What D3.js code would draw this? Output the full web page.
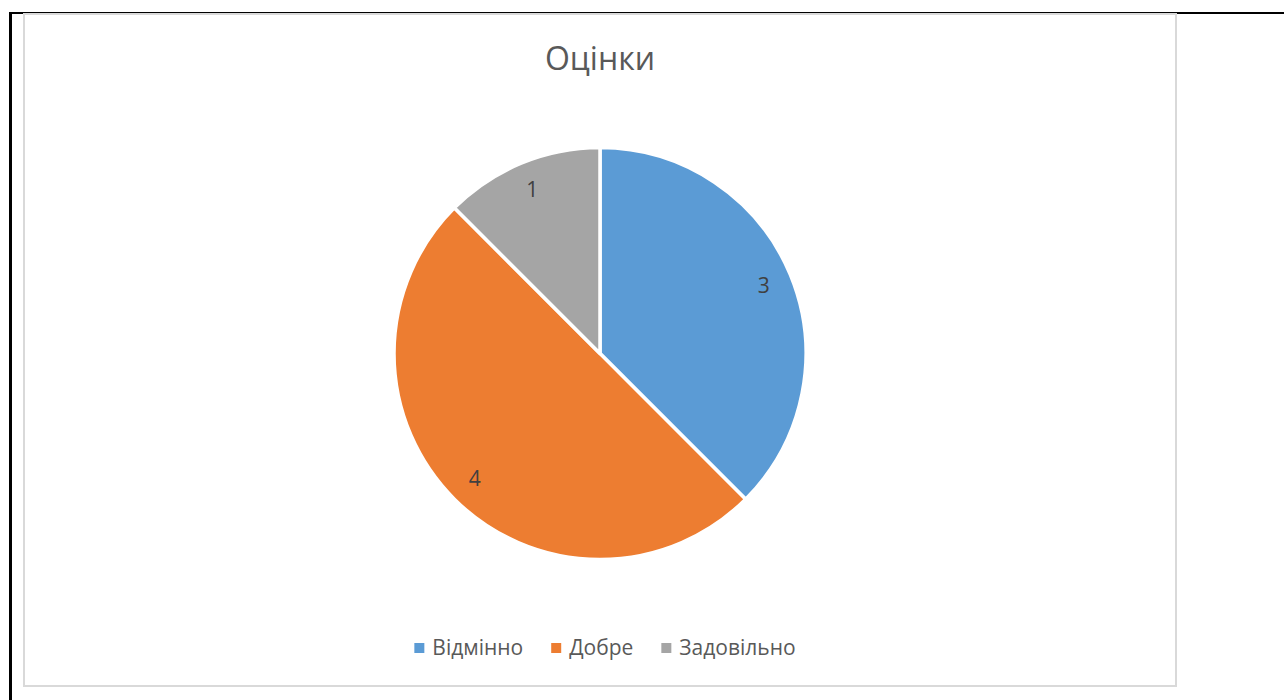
<!DOCTYPE html>
<html lang="uk">
<head>
<meta charset="UTF-8">
<title>Оцінки</title>
<script src="https://d3js.org/d3.v7.min.js"></script>
<style>
  body { margin: 0; background: #fff; }
  svg { display: block; font-family: "Open Sans", "Noto Sans", sans-serif; }
</style>
</head>
<body>
<div id="chart"></div>
<script>
// data
var categories = ["Відмінно", "Добре", "Задовільно"];
var values = [3, 4, 1];
var colors = ["#5B9BD5", "#ED7D31", "#A5A5A5"];
var title = "Оцінки";

var width = 1284, height = 700;

var svg = d3.select("#chart").append("svg")
  .attr("width", width)
  .attr("height", height);

// page lines around the chart
svg.append("line")
  .attr("x1", 9).attr("x2", width).attr("y1", 13).attr("y2", 13)
  .attr("stroke", "#000").attr("stroke-width", 2);
svg.append("line")
  .attr("x1", 10.5).attr("x2", 10.5).attr("y1", 12).attr("y2", height)
  .attr("stroke", "#000").attr("stroke-width", 3);

// chart area border
svg.append("rect")
  .attr("x", 24).attr("y", 14)
  .attr("width", 1152).attr("height", 672)
  .attr("fill", "#fff")
  .attr("stroke", "#d9d9d9").attr("stroke-width", 2);

// title
svg.append("text")
  .attr("x", 600).attr("y", 70)
  .attr("text-anchor", "middle")
  .attr("font-size", 32)
  .attr("fill", "#595959")
  .text(title);

// pie
var cx = 600, cy = 353.5, r = 206;
var data = categories.map(function(c, i) { return {name: c, value: values[i], color: colors[i]}; });

var pie = d3.pie().sort(null).value(function(d) { return d.value; });
var arc = d3.arc().innerRadius(0).outerRadius(r);
var labelArc = d3.arc().innerRadius(r * 0.86).outerRadius(r * 0.86);

var g = svg.append("g").attr("transform", "translate(" + cx + "," + cy + ")");

var arcs = pie(data);

g.selectAll("path")
  .data(arcs)
  .enter().append("path")
  .attr("d", arc)
  .attr("fill", function(d) { return d.data.color; })
  .attr("stroke", "#fff")
  .attr("stroke-width", 3.5)
  .attr("stroke-linejoin", "round");

g.selectAll("text.lbl")
  .data(arcs)
  .enter().append("text")
  .attr("class", "lbl")
  .attr("transform", function(d) { return "translate(" + labelArc.centroid(d) + ")"; })
  .attr("text-anchor", "middle")
  .attr("dy", "0.35em")
  .attr("font-size", 21)
  .attr("fill", "#404040")
  .text(function(d) { return d.data.value; });

// legend
var legend = svg.append("g");
var x = 0;
data.forEach(function(d) {
  var it = legend.append("g");
  it.append("rect")
    .attr("x", 0).attr("y", -12)
    .attr("width", 10).attr("height", 10)
    .attr("fill", d.color);
  var t = it.append("text")
    .attr("x", 18).attr("y", 0)
    .attr("font-size", 21)
    .attr("fill", "#595959")
    .text(d.name);
  var w = 18 + t.node().getComputedTextLength();
  it.attr("transform", "translate(" + x + ",0)");
  x += w + 28;
});
var totalW = x - 28;
legend.attr("transform", "translate(" + (605 - totalW / 2) + ",655)");
</script>
</body>
</html>
